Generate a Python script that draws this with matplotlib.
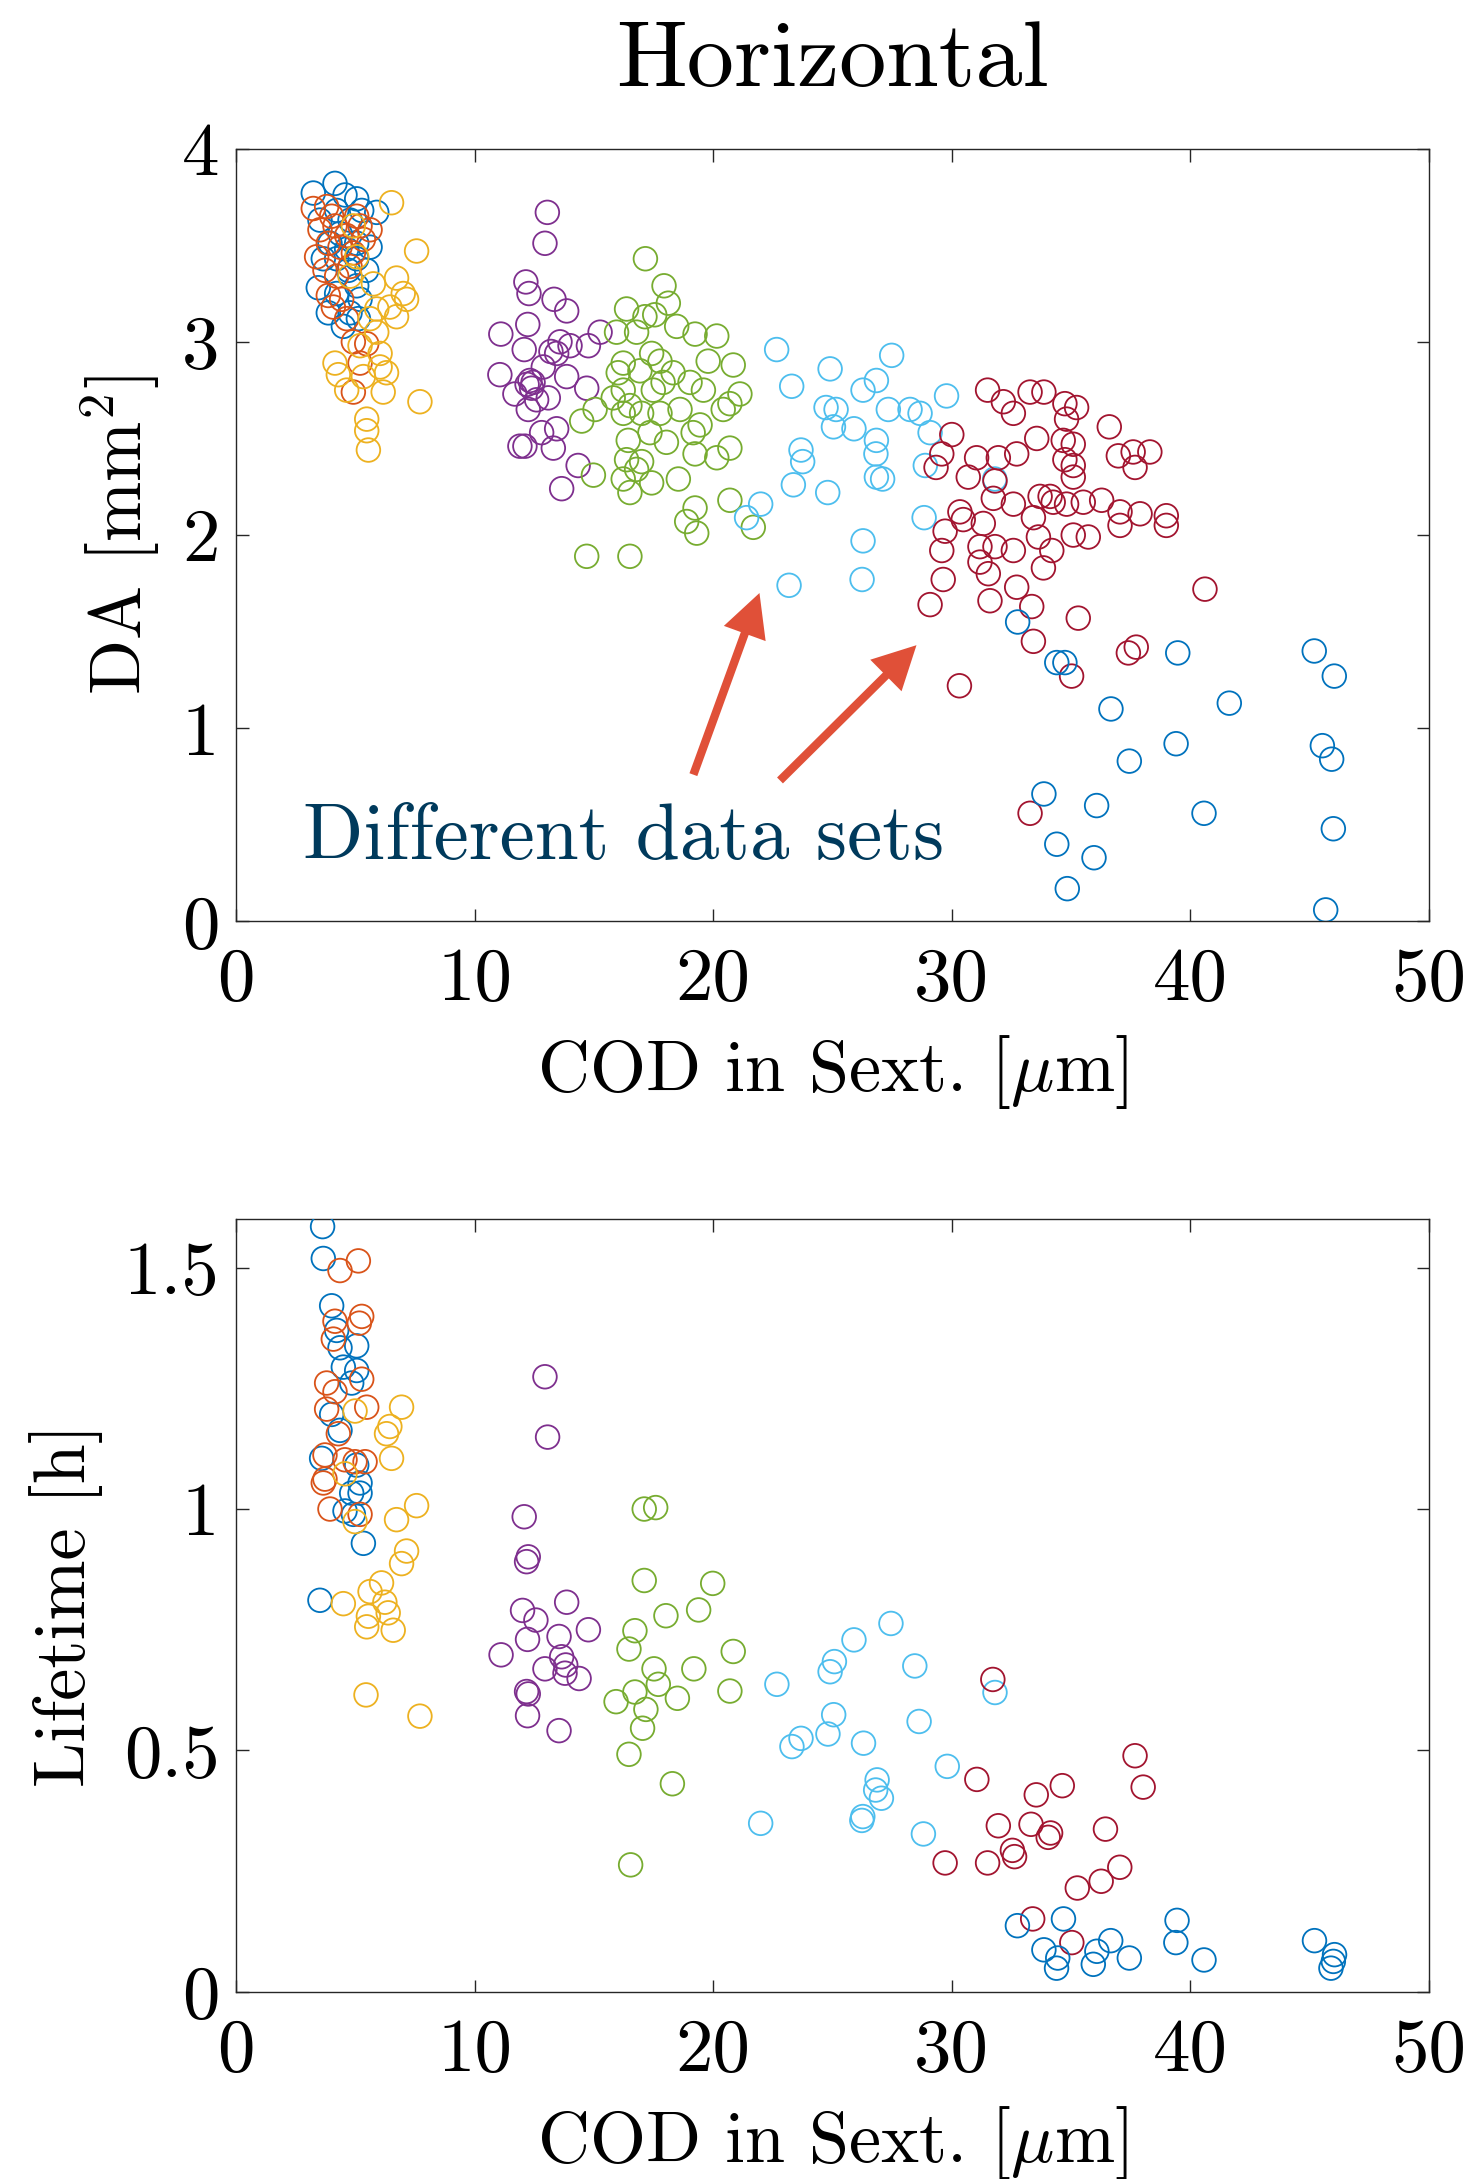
import matplotlib
matplotlib.use("Agg")
import matplotlib.pyplot as plt

plt.rcParams["font.family"] = "cmr10"
plt.rcParams["mathtext.fontset"] = "cm"
plt.rcParams["axes.unicode_minus"] = False

# MATLAB default line colour order (7 colours, then it wraps round)
COLORS = ["#0072BD", "#D95319", "#EDB120", "#7E2F8E",
          "#77AC30", "#4DBEEE", "#A2142F", "#0072BD"]

# ---- dynamic aperture vs closed-orbit distortion, one list pair per data set
da_x1 = [4.15, 3.24, 4.57, 5.06, 5.90, 5.27, 3.52, 4.22, 4.78, 3.94, 4.36, 5.06, 5.62, 4.22,
         5.06, 4.71, 5.48, 5.06, 3.45, 5.20, 4.22, 3.87, 4.50, 4.78, 5.13, 3.66, 4.64]
da_y1 = [3.82, 3.77, 3.76, 3.74, 3.67, 3.68, 3.63, 3.68, 3.63, 3.51, 3.56, 3.51, 3.49, 3.43,
         3.43, 3.37, 3.37, 3.29, 3.28, 3.22, 3.25, 3.15, 3.08, 3.15, 3.12, 3.43, 3.48]

da_x2 = [3.24, 3.80, 3.52, 4.15, 4.64, 5.20, 3.87, 4.36, 4.92, 5.34, 5.62, 3.73, 4.22, 4.78,
         3.87, 4.08, 4.64, 4.92, 5.48, 5.20, 4.92, 4.43, 3.38, 5.06, 4.01]
da_y2 = [3.69, 3.70, 3.58, 3.60, 3.55, 3.60, 3.51, 3.49, 3.46, 3.53, 3.58, 3.37, 3.34, 3.39,
         3.24, 3.18, 3.12, 3.00, 2.99, 2.89, 2.74, 3.22, 3.44, 3.65, 3.65]

da_x3 = [6.52, 7.57, 6.73, 7.01, 7.15, 6.45, 6.73, 5.76, 5.90, 4.92, 5.06, 4.78, 4.15, 4.29,
         4.64, 5.34, 6.04, 6.31, 6.17, 7.71, 5.48, 5.48, 5.55, 6.04, 5.20, 5.90, 5.62]
da_y3 = [3.72, 3.47, 3.33, 3.25, 3.22, 3.18, 3.13, 3.30, 3.17, 3.60, 3.44, 3.34, 2.89, 2.83,
         2.75, 2.82, 2.87, 2.84, 2.74, 2.69, 2.60, 2.54, 2.44, 2.94, 2.98, 3.05, 3.12]

da_x4 = [13.05, 12.95, 12.15, 12.28, 13.33, 13.86, 12.23, 11.10, 12.08, 13.58, 14.00, 14.77,
         15.26, 13.44, 11.06, 12.32, 12.88, 13.86, 14.70, 12.39, 11.69, 13.09, 12.25, 13.44,
         12.81, 12.11, 13.30, 14.34, 13.65, 11.90, 12.20, 12.45, 13.20, 12.60]
da_y4 = [3.67, 3.51, 3.31, 3.25, 3.22, 3.16, 3.09, 3.04, 2.96, 3.00, 2.98, 2.98,
         3.05, 2.94, 2.83, 2.80, 2.87, 2.82, 2.76, 2.76, 2.73, 2.71, 2.65, 2.55,
         2.53, 2.46, 2.45, 2.36, 2.24, 2.46, 2.78, 2.79, 2.95, 2.70]

da_x5 = [17.16, 17.94, 18.12, 16.37, 17.14, 17.55, 18.47, 19.24, 20.15, 15.95, 16.79, 17.42,
         17.77, 16.23, 19.79, 20.84, 16.02, 16.93, 18.32, 17.90, 19.03, 19.59, 21.12, 20.70,
         20.42, 15.81, 16.51, 16.23, 17.00, 17.77, 18.61, 15.05, 14.49, 19.45, 19.16, 16.44,
         17.35, 18.04, 20.70, 19.24, 20.15, 16.37, 17.00, 16.79, 14.98, 18.54, 16.23, 17.42,
         16.51, 20.70, 19.24, 18.89, 19.31, 21.68, 14.70, 16.51, 16.23, 17.49]
da_y5 = [3.43, 3.29, 3.20, 3.17, 3.13, 3.14, 3.08, 3.04, 3.03, 3.05, 3.05, 2.94,
         2.90, 2.89, 2.90, 2.88, 2.84, 2.85, 2.84, 2.79, 2.79, 2.75, 2.73, 2.68,
         2.65, 2.71, 2.67, 2.63, 2.63, 2.63, 2.65, 2.65, 2.59, 2.57, 2.53, 2.49,
         2.53, 2.48, 2.45, 2.42, 2.40, 2.39, 2.38, 2.34, 2.31, 2.29, 2.29, 2.27,
         2.22, 2.18, 2.14, 2.07, 2.01, 2.04, 1.89, 1.89, 2.75, 2.75]

da_x6 = [22.66, 24.90, 27.48, 23.29, 26.84, 26.28, 29.78, 24.73, 25.15, 27.34, 28.25, 28.67,
         25.04, 25.90, 26.84, 29.09, 23.68, 23.75, 26.82, 28.89, 23.36, 26.84, 27.10, 24.80,
         31.80, 21.99, 21.40, 28.84, 26.28, 26.24, 23.18]
da_y6 = [2.96, 2.86, 2.93, 2.77, 2.80, 2.75, 2.72, 2.66, 2.65, 2.65, 2.65, 2.63,
         2.56, 2.55, 2.49, 2.53, 2.44, 2.38, 2.42, 2.36, 2.26, 2.30, 2.29, 2.22,
         2.29, 2.16, 2.09, 2.09, 1.97, 1.77, 1.74]

da_x7 = [31.50, 32.16, 32.58, 33.28, 33.86, 34.74, 35.23, 34.81, 36.60, 30.00,
         33.56, 34.67, 35.09, 29.58, 31.04, 31.95, 32.72, 34.74, 35.09, 36.98,
         37.60, 38.30, 37.68, 29.34, 30.69, 31.81, 35.09, 31.74, 32.58, 33.70,
         34.12, 34.25, 34.81, 35.51, 36.28, 37.05, 37.89, 38.99, 38.99, 30.34,
         30.48, 31.32, 33.42, 29.72, 29.58, 31.18, 31.81, 32.58, 33.63, 34.19,
         35.09, 35.72, 37.05, 31.18, 31.53, 33.84, 29.64, 32.72, 29.09, 31.60,
         33.35, 35.30, 40.61, 33.42, 37.40, 37.73, 35.02, 30.32, 33.28]
da_y7 = [2.75, 2.69, 2.63, 2.74, 2.74, 2.68, 2.66, 2.60, 2.56, 2.52,
         2.50, 2.49, 2.47, 2.42, 2.40, 2.40, 2.42, 2.39, 2.36, 2.41,
         2.43, 2.43, 2.35, 2.35, 2.30, 2.28, 2.30, 2.19, 2.16, 2.20,
         2.20, 2.17, 2.16, 2.17, 2.18, 2.12, 2.11, 2.10, 2.05, 2.12,
         2.08, 2.06, 2.09, 2.02, 1.92, 1.94, 1.94, 1.92, 1.99, 1.92,
         2.00, 1.99, 2.05, 1.86, 1.80, 1.83, 1.77, 1.73, 1.64, 1.66,
         1.63, 1.57, 1.72, 1.45, 1.39, 1.42, 1.27, 1.22, 0.56]

da_x8 = [32.76, 34.40, 34.74, 39.47, 45.19, 46.03, 36.67, 41.63, 39.40, 37.44,
         45.53, 45.92, 33.86, 36.07, 40.57, 45.99, 34.40, 35.96, 34.84, 45.67]
da_y8 = [1.55, 1.34, 1.34, 1.39, 1.40, 1.27, 1.10, 1.13, 0.92, 0.83,
         0.91, 0.84, 0.66, 0.60, 0.56, 0.48, 0.40, 0.33, 0.17, 0.06]

# ---- lifetime vs closed-orbit distortion
lt_x1 = [3.63, 3.66, 4.01, 4.22, 4.36, 5.06, 4.50, 5.06, 4.85, 4.01, 4.36, 3.59, 5.06, 5.20,
         4.85, 4.57, 4.92, 5.34, 3.52, 5.20]
lt_y1 = [1.585, 1.519, 1.421, 1.370, 1.334, 1.338, 1.294, 1.287, 1.261, 1.196, 1.163, 1.105,
         1.091, 1.054, 1.033, 0.996, 0.989, 0.929, 0.811, 1.033]

lt_x2 = [4.36, 5.13, 4.15, 5.27, 5.17, 4.08, 5.27, 3.80, 4.15, 5.48, 3.80, 4.29, 3.73, 4.57,
         4.99, 5.41, 3.73, 3.94, 5.20, 3.66]
lt_y2 = [1.494, 1.514, 1.389, 1.399, 1.385, 1.352, 1.269, 1.261, 1.243, 1.211, 1.207, 1.156,
         1.112, 1.102, 1.098, 1.098, 1.062, 1.000, 0.989, 1.054]

lt_x3 = [4.99, 6.94, 6.45, 6.31, 6.52, 4.57, 4.99, 7.57, 6.73, 7.15, 6.94, 6.10, 5.62, 4.50,
         6.24, 6.38, 5.55, 5.48, 6.59, 5.45, 7.71]
lt_y3 = [1.203, 1.211, 1.171, 1.156, 1.105, 1.073, 0.974, 1.007, 0.978, 0.913, 0.887, 0.847,
         0.829, 0.804, 0.807, 0.785, 0.778, 0.756, 0.749, 0.615, 0.571]

lt_x4 = [12.95, 13.06, 12.08, 12.25, 12.18, 13.86, 12.01, 12.57, 14.77, 12.22, 13.54, 11.11,
         13.65, 12.95, 13.82, 13.79, 14.38, 12.18, 12.25, 12.22, 13.54]
lt_y4 = [1.274, 1.149, 0.984, 0.901, 0.891, 0.807, 0.790, 0.770, 0.750, 0.730, 0.736, 0.698,
         0.694, 0.669, 0.677, 0.660, 0.649, 0.622, 0.617, 0.572, 0.541]

lt_x5 = [17.11, 17.59, 17.11, 19.98, 18.02, 19.39, 16.72, 16.47, 20.84, 17.52, 19.19, 17.70,
         16.72, 15.93, 18.50, 20.70, 17.18, 17.04, 16.47, 18.29, 16.54]
lt_y5 = [1.000, 1.003, 0.852, 0.846, 0.779, 0.791, 0.748, 0.710, 0.705, 0.669, 0.669, 0.637,
         0.621, 0.601, 0.608, 0.623, 0.585, 0.546, 0.492, 0.431, 0.263]

lt_x6 = [27.45, 25.90, 25.08, 24.90, 22.67, 28.45, 31.81, 25.05, 24.81, 23.68, 23.30, 26.30,
         28.63, 29.81, 26.87, 26.81, 27.05, 26.27, 26.23, 21.99, 28.81]
lt_y6 = [0.763, 0.729, 0.684, 0.663, 0.637, 0.675, 0.620, 0.574, 0.534, 0.525, 0.508, 0.515,
         0.560, 0.467, 0.439, 0.418, 0.401, 0.363, 0.355, 0.349, 0.327]

lt_x7 = [31.72, 37.68, 38.02, 31.05, 34.63, 33.54, 31.95, 33.32, 34.14, 34.04, 36.44, 32.54,
         32.63, 29.72, 31.50, 37.04, 36.26, 35.26, 33.39, 35.03]
lt_y7 = [0.647, 0.489, 0.424, 0.440, 0.427, 0.408, 0.344, 0.347, 0.329, 0.320, 0.337, 0.293,
         0.280, 0.267, 0.267, 0.258, 0.229, 0.215, 0.151, 0.102]

lt_x8 = [32.75, 34.68, 39.44, 33.86, 36.66, 36.08, 34.44, 34.39, 35.93, 37.44, 39.39, 40.57,
         45.20, 46.04, 45.99, 45.89]
lt_y8 = [0.137, 0.151, 0.148, 0.087, 0.106, 0.084, 0.070, 0.049, 0.057, 0.070, 0.102, 0.066,
         0.106, 0.077, 0.063, 0.049]

x_ticks = [0, 10, 20, 30, 40, 50]
da_ticks = [0, 1, 2, 3, 4]
lt_ticks = [0, 0.5, 1, 1.5]
lt_tick_labels = ["0", "0.5", "1", "1.5"]

da_sets = [(da_x1, da_y1), (da_x2, da_y2), (da_x3, da_y3), (da_x4, da_y4),
           (da_x5, da_y5), (da_x6, da_y6), (da_x7, da_y7), (da_x8, da_y8)]
lt_sets = [(lt_x1, lt_y1), (lt_x2, lt_y2), (lt_x3, lt_y3), (lt_x4, lt_y4),
           (lt_x5, lt_y5), (lt_x6, lt_y6), (lt_x7, lt_y7), (lt_x8, lt_y8)]

AX_COLOR = "#262626"

fig = plt.figure(figsize=(14.72, 21.79), dpi=100)
ax1 = fig.add_axes([0.1603, 0.5771, 0.8105, 0.3547])
ax2 = fig.add_axes([0.1603, 0.0859, 0.8105, 0.3545])


def style_axes(ax):
    for sp in ax.spines.values():
        sp.set_color(AX_COLOR)
        sp.set_linewidth(1.0)
    ax.tick_params(direction="in", top=True, right=True, length=9, width=1.0,
                   colors=AX_COLOR, labelcolor="black", labelsize=54)
    ax.tick_params(axis="x", pad=19)
    ax.tick_params(axis="y", pad=12)


for ax, sets in ((ax1, da_sets), (ax2, lt_sets)):
    for (xs, ys), c in zip(sets, COLORS):
        ax.scatter(xs, ys, s=17 ** 2, facecolors="none", edgecolors=c,
                   linewidths=1.3, zorder=3)
    ax.set_xlim(0, 50)
    ax.set_xticks(x_ticks)
    ax.set_xlabel(r"COD in Sext. [$\mu$m]", fontsize=52, labelpad=13)
    style_axes(ax)

ax1.set_ylim(0, 4)
ax1.set_yticks(da_ticks)
ax1.set_ylabel(r"DA [mm$^2$]", fontsize=52, labelpad=14)
ax1.set_title("Horizontal", fontsize=68, pad=45)

ax2.set_ylim(0, 1.6)
ax2.set_yticks(lt_ticks)
ax2.set_yticklabels(lt_tick_labels)
ax2.set_ylabel("Lifetime [h]", fontsize=52, labelpad=15)

# annotation pointing at two of the data sets
arrow_red = "#E05038"
arrow = dict(arrowstyle="simple,head_length=31,head_width=32,tail_width=6",
             mutation_scale=1, color=arrow_red, lw=0, shrinkA=0, shrinkB=0)
ax1.annotate("", xy=(21.94, 1.70), xytext=(19.17, 0.76), arrowprops=arrow, zorder=4)
ax1.annotate("", xy=(28.52, 1.43), xytext=(22.80, 0.73), arrowprops=arrow, zorder=4)
ax1.text(2.81, 0.326, "Different data sets", fontsize=57, color="#003A5C",
         va="baseline", ha="left", zorder=5)

fig.savefig("out.png", dpi=100)
